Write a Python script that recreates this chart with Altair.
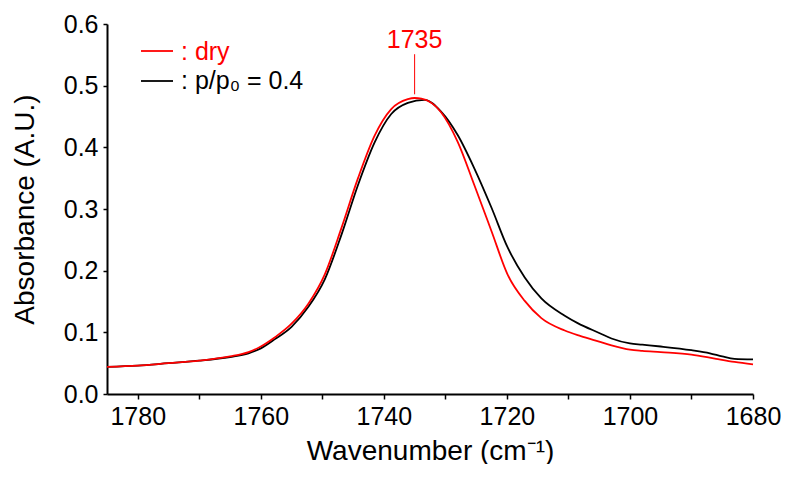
import altair as alt
import pandas as pd

# ---- data ----
dry_wn = [1785, 1780, 1775, 1770, 1765, 1762, 1760, 1757.7, 1755, 1752.3, 1749.6, 1746.9,
          1744.2, 1741.5, 1738.8, 1736.1, 1735, 1733.9, 1730.7, 1728.0, 1725.3, 1722.5,
          1719.9, 1717.1, 1714.4, 1710.6, 1708, 1705, 1703, 1700, 1698, 1695, 1690, 1686,
          1683, 1680]
dry_abs = [0.044, 0.046, 0.050, 0.054, 0.061, 0.068, 0.077, 0.092, 0.114, 0.146, 0.194, 0.269,
           0.350, 0.419, 0.462, 0.478, 0.480, 0.479, 0.457, 0.409, 0.339, 0.264,
           0.194, 0.151, 0.123, 0.103, 0.094, 0.085, 0.079, 0.072, 0.070, 0.068, 0.064, 0.057,
           0.052, 0.048]

wet_wn = [1785, 1780, 1775, 1770, 1765, 1762, 1760, 1757.7, 1755, 1752.3, 1749.6, 1746.9,
          1744.2, 1741.5, 1738.8, 1736.1, 1733.4, 1730.7, 1728.0, 1725.3, 1722.5, 1719.9,
          1717.1, 1714.4, 1710.6, 1708.5, 1705, 1703, 1700, 1698, 1695, 1690, 1687, 1685,
          1683, 1680]
wet_abs = [0.044, 0.046, 0.050, 0.054, 0.060, 0.066, 0.074, 0.089, 0.109, 0.141, 0.186, 0.258,
           0.339, 0.408, 0.454, 0.472, 0.477, 0.458, 0.420, 0.366, 0.302, 0.238,
           0.189, 0.155, 0.127, 0.115, 0.099, 0.090, 0.082, 0.080, 0.077, 0.071, 0.066, 0.061,
           0.057, 0.056]

series_names = ["dry", "p/p0 = 0.4"]
series_colors = ["#ff0000", "#000000"]

x_ticks = [1780, 1770, 1760, 1750, 1740, 1730, 1720, 1710, 1700, 1690, 1680]
y_ticks = [0.0, 0.05, 0.1, 0.15, 0.2, 0.25, 0.3, 0.35, 0.4, 0.45, 0.5, 0.55, 0.6]

peak_wn = [1735]
peak_label = ["1735"]
peak_line_lo = [0.486]
peak_line_hi = [0.551]
peak_text_y = [0.561]

FONT = "Liberation Sans"

df = pd.concat([
    pd.DataFrame({"wn": wet_wn, "abs": wet_abs, "series": series_names[1], "order": 0}),
    pd.DataFrame({"wn": dry_wn, "abs": dry_abs, "series": series_names[0], "order": 1}),
], ignore_index=True)

x_scale = alt.Scale(domain=[1680, 1785], reverse=True, nice=False, zero=False)
y_scale = alt.Scale(domain=[0, 0.6], nice=False, zero=False)

x_axis = alt.Axis(
    title="Wavenumber (cm\u207b\u00b9)", values=x_ticks,
    labelExpr="datum.value % 20 == 0 ? datum.label : ''",
    grid=False, domainColor="black", domainWidth=2, tickColor="black", tickWidth=1.5,
    tickSize=5, labelPadding=5, labelFont=FONT, labelFontSize=25, labelColor="black",
    titleFont=FONT, titleFontSize=28, titleFontWeight="normal", titleColor="black",
    titlePadding=8, labelFlush=False, format="d",
)
y_axis = alt.Axis(
    title="Absorbance (A.U.)", values=y_ticks,
    labelExpr="abs(round(datum.value*100) % 10) < 0.5 ? format(datum.value, '.1f') : ''",
    grid=False, domainColor="black", domainWidth=2, tickColor="black", tickWidth=1.5,
    tickSize=4, labelPadding=5, labelFont=FONT, labelFontSize=25, labelColor="black",
    titleFont=FONT, titleFontSize=28, titleFontWeight="normal", titleColor="black",
    titlePadding=24, labelFlush=False,
)

lines = alt.Chart(df).mark_line(strokeWidth=1.8, interpolate="monotone").encode(
    x=alt.X("wn:Q", scale=x_scale, axis=x_axis),
    y=alt.Y("abs:Q", scale=y_scale, axis=y_axis),
    color=alt.Color("series:N", scale=alt.Scale(domain=series_names, range=series_colors), legend=None),
    detail="series:N",
    order="order:Q",
)

peak_df = pd.DataFrame({"wn": peak_wn, "lo": peak_line_lo, "hi": peak_line_hi,
                        "ty": peak_text_y, "label": peak_label})
peak_rule = alt.Chart(peak_df).mark_rule(color="#ff0000", strokeWidth=1).encode(
    x=alt.X("wn:Q", scale=x_scale), y=alt.Y("lo:Q", scale=y_scale), y2="hi:Q")
peak_text = alt.Chart(peak_df).mark_text(
    color="#ff0000", font=FONT, fontSize=25, baseline="alphabetic", align="center"
).encode(x=alt.X("wn:Q", scale=x_scale), y=alt.Y("ty:Q", scale=y_scale), text="label:N")

# manual legend
leg_red_line = alt.Chart(peak_df).mark_rule(color="#ff0000", strokeWidth=1.8).encode(
    x=alt.value(34), x2=alt.value(66), y=alt.value(27))
leg_blk_line = alt.Chart(peak_df).mark_rule(color="#000000", strokeWidth=1.8).encode(
    x=alt.value(34), x2=alt.value(66), y=alt.value(57))
leg_red_text = alt.Chart(peak_df).mark_text(
    color="#ff0000", font=FONT, fontSize=25, align="left", baseline="alphabetic"
).encode(x=alt.value(74), y=alt.value(36), text=alt.value(": dry"))
leg_blk_text = alt.Chart(peak_df).mark_text(
    color="#000000", font=FONT, fontSize=25, align="left", baseline="alphabetic"
).encode(x=alt.value(74), y=alt.value(65), text=alt.value(": p/p\u2080 = 0.4"))

chart = alt.layer(
    lines, peak_rule, peak_text, leg_red_line, leg_blk_line, leg_red_text, leg_blk_text
).properties(
    width=646, height=370,
    autosize=alt.AutoSizeParams(type="none"),
    padding={"left": 99, "top": 16, "right": 28, "bottom": 70},
    background="white",
).configure_view(stroke=None)

chart.save("out.html", embed_options={"renderer": "svg", "actions": False})
